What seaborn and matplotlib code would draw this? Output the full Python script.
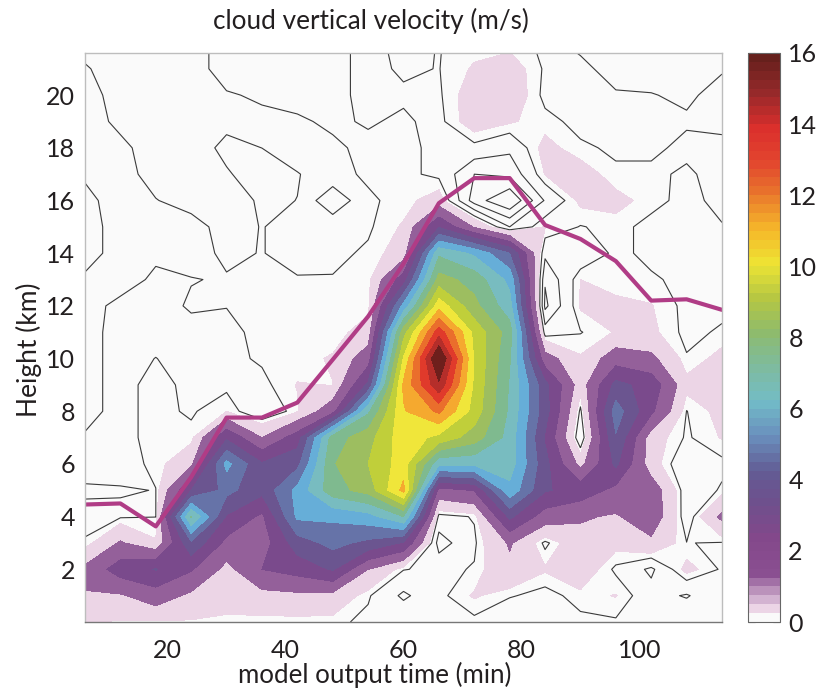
import numpy as np
import pandas as pd
import matplotlib
matplotlib.use("Agg")
import matplotlib.pyplot as plt
import seaborn as sns
from matplotlib.colors import ListedColormap, BoundaryNorm
from matplotlib.cm import ScalarMappable

# output times and model heights
times = [6, 12, 18, 24, 30, 36, 42, 48, 54, 60, 66, 72, 78, 84, 90, 96, 102, 108, 114]
heights = list(range(23))

# vertical velocity profiles, one per output time, from 0 to 22 km
w_t006 = [.3, .95, 1.2, .03, -.1, .05, -.15, -.03, .1, .1, .1, .1, .1, .04, -.1, -.1, -.06, .03, .1, .1, .1, .02, -.08]
w_t012 = [.2, .9, 2.5, 1.1, -.05, .02, -.1, -.1, -.1, -.1, -.1, -.1, -.07, .12, .1, .1, .1, .1, .05, -.05, -.1, -.1, -.1]
w_t018 = [.2, 1.5, 3.05, .3, -.005, -.005, .05, .1, .1, .1, .005, -.1, -.1, -.05, .05, .1, .01, -.1, -.1, -.1, -.1, -.1, -.1]
w_t024 = [.2, .8, 2.1, 3.8, 7.1, 3, .8, .1, -.05, -.08, -.1, -.08, .03, -.01, .1, .1, -.1, -.1, -.1, -.1, -.1, -.1, -.1]
w_t030 = [.15, .5, .7, 1.7, 2.9, 4.3, 5.3, 2.8, .25, -.1, -.1, -.1, .01, .02, -.05, -.1, -.1, -.02, .05, -.05, -.02, .1, .1]
w_t036 = [.1, .7, 2, 1.5, 1.8, 3.3, 3.1, 1, -.45, -.1, .05, .1, .1, .05, .01, .01, .03, .1, -.001, -.05, .03, .1, .1]
w_t042 = [.1, .8, 2.4, 3.5, 5.2, 5.3, 3.7, 2.5, .2, .27, .1, .1, .1, .02, -.1, -.1, -.002, .01, -.1, -.04, .1, .1, .1]
w_t048 = [.1, .7, 3.1, 4.3, 5.2, 7.6, 7.9, 7.5, 1.6, .24, .3, .05, .05, .02, -.08, -.1, -.95, -.1, -.05, .05, .1, .1, .1]
w_t054 = [-.1, .05, 1, 3.75, 5.6, 8.4, 9, 8.6, 6.8, 3.2, 1.5, .5, .1, .1, .05, -.05, -.05, .05, .07, -.03, -.1, -.1, -.1]
w_t060 = [-.05, -.6, .02, 2.9, 7, 11.3, 10.5, 10.6, 10.9, 11.2, 10.1, 8.6, 5.3, 2.5, .5, .3, .1, .1, .1, .05, -.05, .05, .1]
w_t066 = [-.05, -.1, -.1, -.75, -.15, 1.6, 6.2, 9.7, 12.2, 14.8, 16.3, 13.6, 10.6, 8.4, 6.8, 2.9, .5, -.1, -.1, -.1, -.05, -.01, -.01]
w_t072 = [-.1, .3, .03, -.07, .03, 2.05, 6.2, 8.5, 9.6, 9.8, 9.9, 9.7, 8.3, 7.6, 5.8, .9, -1.25, -1, -.12, .5, .5, .3, .1]
w_t078 = [-.45, .04, .8, 1.1, 3.2, 5.7, 6.5, 6.6, 6.8, 6.9, 7.1, 7.5, 6.4, 5.7, 4, -.5, -2, -.88, -.38, .3, .6, .5, .1]
w_t084 = [-.1, -.15, .3, -.1, 1.5, 3.1, 3.3, 2.9, 3.4, 3.3, 1.4, -.25, -1.12, -.95, -.38, .28, -.45, .27, .4, .1, -.1, -.05, -.05]
w_t090 = [-.1, .15, .6, .7, 1.1, 2.6, .7, -.45, -.1, .5, .3, -.02, .3, .25, -.38, -.02, .35, .5, .05, -.1, -.1, -.05, .05]
w_t096 = [-.05, .27, -.08, .4, .9, 1.7, 3.2, 3.9, 4.5, 3.3, 1.5, .28, .35, .1, .1, .1, .4, .05, -.05, -.1, -.02, .08, .1]
w_t102 = [-.05, -.3, -.6, .8, 1.6, 1.55, .5, .5, 2.2, 2.6, 1.2, .35, .27, .05, -.1, -.1, .1, .05, -.05, -.1, -.01, .1, .1]
w_t108 = [-.05, -.55, .4, .01, -.3, -.3, -.4, -.05, -.01, .4, .03, -.1, -.1, -.1, -.1, -.1, -.1, -.04, .06, -.03, .04, .1, .1]
w_t114 = [-.05, -.05, -.05, -.03, 1.2, .05, -.1, .28, .4, .4, .4, .05, -.1, -.1, -.1, -.02, .1, .1, .05, -.05, -.08, .02, .1]

# cloud top height
cloud_top = [4.46, 4.5, 3.63, 5.5, 7.76, 7.76, 8.33, 9.96, 11.6, 13.6, 15.9, 16.85, 16.85, 15.07, 14.54, 13.7, 12.2, 12.25, 11.85]

x_ticks = [20, 40, 60, 80, 100]
y_ticks = [2, 4, 6, 8, 10, 12, 14, 16, 18, 20]
cbar_ticks = [0, 2, 4, 6, 8, 10, 12, 14, 16]

fill_levels = [.25] + list(range(1, 18))
line_levels = [-1.5, -1, -.5, 0]
band_colors = ["#ecd5e6", "#94609a", "#7a4a8c", "#6b5590", "#6673a8", "#66aed8", "#78bcc0", "#7fba8f",
               "#9dbe60", "#c0cf3a", "#f0e63a", "#f5a92f", "#ea6e2c", "#e03a2b", "#b52e2a", "#6e1f1c", "#6e1f1c"]
bar_anchors = ["#ecd5e6", "#8a4f91", "#84488b", "#6f4f8c", "#625c94", "#6a90bd", "#72bcc8", "#7ebb9f", "#8dbb6e",
               "#b5c643", "#eee534", "#f5b92a", "#e9792c", "#e2452e", "#da2e2c", "#96292a", "#66201c"]

sns.set_theme(style="white")
plt.rcParams["font.family"] = ["Lato", "DejaVu Sans"]

w = np.array([w_t006, w_t012, w_t018, w_t024, w_t030, w_t036, w_t042, w_t048, w_t054, w_t060,
              w_t066, w_t072, w_t078, w_t084, w_t090, w_t096, w_t102, w_t108, w_t114]).T

fig = plt.figure(figsize=(8.17, 6.94), dpi=100)
W, H = 817.0, 694.0
ax = fig.add_axes([85 / W, 1 - 622 / H, 637 / W, 569 / H])
cax = fig.add_axes([748 / W, 1 - 622 / H, 32 / W, 569 / H])

ax.set_facecolor("#fafafa")
ax.contourf(times, heights, w, levels=fill_levels, colors=band_colors)
ax.contour(times, heights, w, levels=line_levels, colors="#3a3a3a", linewidths=0.8, linestyles="solid")

top_df = pd.DataFrame({"time": times, "top": cloud_top})
sns.lineplot(data=top_df, x="time", y="top", color="#b03c86", linewidth=3, ax=ax)

ax.set_xlim(6, 114)
ax.set_ylim(0, 21.6)
ax.set_xticks(x_ticks)
ax.set_yticks(y_ticks)
ax.tick_params(labelsize=18, length=0, colors="#231f20")
ax.tick_params(axis="x", pad=12)
ax.tick_params(axis="y", pad=7)
ax.set_xlabel("model output time (min)", fontsize=18.6, color="#231f20", labelpad=0, x=0.454)
ax.set_ylabel("Height (km)", fontsize=19, color="#231f20", labelpad=3, y=0.478)
ax.set_title("cloud vertical velocity (m/s)", fontsize=18.8, color="#231f20", pad=17, x=0.449)
for s in ax.spines.values():
    s.set_color("#bdbdbd")
    s.set_linewidth(1.0)
ax.spines["bottom"].set_color("#777777")

# the colour bar has quarter-unit steps
bar_colors = ["#fafafa"] + sns.blend_palette(bar_anchors, n_colors=63)
bar_bounds = np.arange(0, 16.25, .25)
sm = ScalarMappable(norm=BoundaryNorm(bar_bounds, 64), cmap=ListedColormap(bar_colors))
cb = fig.colorbar(sm, cax=cax, ticks=cbar_ticks, spacing="proportional")
cb.ax.minorticks_off()
cb.ax.tick_params(labelsize=18, direction="in", left=True, right=True, length=5, width=0.8,
                  color="#444444", labelcolor="#231f20", pad=6)
cb.outline.set_edgecolor("#666666")
cb.outline.set_linewidth(0.8)

fig.savefig("out.png", dpi=100)
